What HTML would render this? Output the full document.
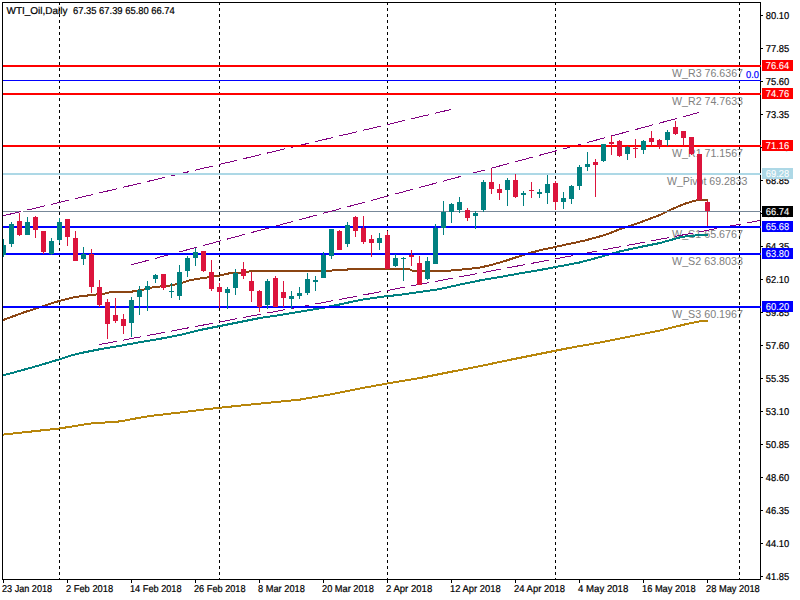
<!DOCTYPE html>
<html lang="en"><head><meta charset="utf-8"><title>WTI_Oil,Daily</title>
<style>html,body{margin:0;padding:0;background:#fff;overflow:hidden}svg{display:block}text{font-family:"Liberation Sans",Arial,sans-serif}.ax{text-rendering:geometricPrecision;font-size:10px;fill:#000;stroke:#000;stroke-width:.22px}.lb{font-size:10.67px;fill:#808080}.wl{text-rendering:geometricPrecision;font-size:10px;fill:#fff;stroke:#fff;stroke-width:.1px}</style>
</head><body>
<svg width="800" height="600" viewBox="0 0 800 600">
<rect width="800" height="600" fill="#fff"/>
<text class="lb" x="672" y="76.6" textLength="71" lengthAdjust="spacingAndGlyphs">W_R3 76.6367</text>
<text class="lb" x="672" y="104.6" textLength="71" lengthAdjust="spacingAndGlyphs">W_R2 74.7633</text>
<text class="lb" x="672" y="156.6" textLength="71" lengthAdjust="spacingAndGlyphs">W_R1 71.1567</text>
<text class="lb" x="667" y="185" textLength="80.5" lengthAdjust="spacingAndGlyphs">W_Pivot 69.2833</text>
<text class="lb" x="672" y="237.5" textLength="71" lengthAdjust="spacingAndGlyphs">W_S1 65.6767</text>
<text class="lb" x="672" y="265" textLength="71" lengthAdjust="spacingAndGlyphs">W_S2 63.8033</text>
<text class="lb" x="672" y="318" textLength="71" lengthAdjust="spacingAndGlyphs">W_S3 60.1967</text>
<text x="746" y="77.6" text-rendering="geometricPrecision" font-size="10" fill="#0000FF" stroke="#0000FF" stroke-width=".2" textLength="13" lengthAdjust="spacingAndGlyphs">0.0</text>
<g shape-rendering="crispEdges" fill="none">
<rect x="2" y="2" width="759" height="1" fill="#000"/>
<rect x="2" y="2" width="1" height="578" fill="#000"/>
<rect x="760" y="2" width="1" height="578" fill="#000"/>
<rect x="2" y="579" width="759" height="1" fill="#000"/>
<line x1="59.5" y1="2" x2="59.5" y2="579" stroke="#000" stroke-width="1" stroke-dasharray="3 3"/>
<line x1="219.5" y1="2" x2="219.5" y2="579" stroke="#000" stroke-width="1" stroke-dasharray="3 3"/>
<line x1="387.5" y1="2" x2="387.5" y2="579" stroke="#000" stroke-width="1" stroke-dasharray="3 3"/>
<line x1="555.5" y1="2" x2="555.5" y2="579" stroke="#000" stroke-width="1" stroke-dasharray="3 3"/>
<line x1="739.5" y1="2" x2="739.5" y2="579" stroke="#000" stroke-width="1" stroke-dasharray="3 3"/>
<polyline points="3,320 25,312 37.5,308 50,303.75 60,300.75 75,297 92.5,294.9 105,293.6 109,292.5 130,292.4 134,291 142.5,289.9 150,288 155,286.8 167.5,286 176,284.3 182.5,282.8 189,280.5 195,279.3 207.5,277.4 211,276.1 220,275.5 227.5,273.6 236,272.8 245,272.4 251,271.1 270,271 331,271 333,270 346,270 349,269 409,269 412,270.6 430,270.8 450,270.6 467.5,269 480,267.6 492.5,264.6 505,261 517.5,256.9 530,252.9 542.5,249.7 555,247 567.5,244.25 585,240.5 605,235 622.5,228.25 635,224.25 647.5,219.6 660,215 672.5,208.9 685,203.7 695,200.7 700,200 708,199.8" stroke="#8B4513" stroke-width="2"/>
<polyline points="3,375.4 20,370.8 40,365.2 60,359.2 70,355.8 80,353.2 100,349.2 120,345.8 140,342.2 160,338.8 180,335 200,330 220,326 240,322 260,318 280,315 300,311.6 320,308.4 340,304.4 360,300 380,297 400,294.8 420,292 440,289 460,284.6 480,280.4 500,277 520,273.4 540,270 560,266.2 580,262.4 600,257 620,251.4 640,247 660,243 680,237.4 690,235.6 700,235.4 708,235.4" stroke="#008080" stroke-width="2"/>
<polyline points="3,434.6 60,428.4 90,423.6 120,421.4 135,418.6 150,416 180,412.5 210,408.8 240,405.6 270,402.6 300,399.6 330,394.5 360,388.5 390,383 420,378 450,372 480,366.2 510,359.8 540,353.8 570,347.8 600,342.5 630,336.5 660,330.5 690,323.2 702,321 707.5,321" stroke="#B8860B" stroke-width="2"/>
<rect x="3" y="211" width="18" height="1" fill="#778899"/>
<rect x="23" y="211" width="738" height="1" fill="#778899"/>
<line x1="3" y1="215.8" x2="451.3" y2="109.4" stroke="#800080" stroke-dasharray="18.5 6.167"/>
<line x1="131" y1="264.9" x2="699" y2="112.5" stroke="#800080" stroke-dasharray="18.64 6.21"/>
<line x1="99" y1="344.65" x2="760" y2="220.45" stroke="#800080" stroke-dasharray="18.315 6.105"/>
<rect x="3" y="65" width="758" height="2" fill="#FF0000"/>
<rect x="3" y="80" width="758" height="1" fill="#0000FF"/>
<rect x="3" y="93" width="758" height="2" fill="#FF0000"/>
<rect x="3" y="145" width="758" height="2" fill="#FF0000"/>
<rect x="3" y="173" width="758" height="2" fill="#ADD8E6"/>
<rect x="3" y="226" width="758" height="2" fill="#0000FF"/>
<rect x="3" y="253" width="758" height="2" fill="#0000FF"/>
<rect x="3" y="306" width="758" height="2" fill="#0000FF"/>
<rect x="3" y="245" width="3" height="10" fill="#008080"/>
<rect x="3" y="239" width="1" height="18" fill="#008080"/>
<rect x="11" y="222" width="1" height="25" fill="#008080"/>
<rect x="9" y="224" width="5" height="20" fill="#008080"/>
<rect x="19" y="213" width="1" height="23" fill="#DC143C"/>
<rect x="17" y="221" width="5" height="14" fill="#DC143C"/>
<rect x="27" y="217" width="1" height="18" fill="#008080"/>
<rect x="25" y="222" width="5" height="13" fill="#008080"/>
<rect x="35" y="216" width="1" height="22" fill="#DC143C"/>
<rect x="33" y="217" width="5" height="13" fill="#DC143C"/>
<rect x="43" y="231" width="1" height="23" fill="#DC143C"/>
<rect x="41" y="231" width="5" height="21" fill="#DC143C"/>
<rect x="51" y="238" width="1" height="17" fill="#008080"/>
<rect x="49" y="241" width="5" height="13" fill="#008080"/>
<rect x="59" y="218" width="1" height="25" fill="#008080"/>
<rect x="57" y="222" width="5" height="18" fill="#008080"/>
<rect x="67" y="219" width="1" height="27" fill="#DC143C"/>
<rect x="65" y="219" width="5" height="18" fill="#DC143C"/>
<rect x="75" y="231" width="1" height="30" fill="#DC143C"/>
<rect x="73" y="238" width="5" height="23" fill="#DC143C"/>
<rect x="83" y="247" width="1" height="18" fill="#008080"/>
<rect x="81" y="254" width="5" height="5" fill="#008080"/>
<rect x="91" y="249" width="1" height="44" fill="#DC143C"/>
<rect x="89" y="254" width="5" height="33" fill="#DC143C"/>
<rect x="99" y="280" width="1" height="27" fill="#DC143C"/>
<rect x="97" y="287" width="5" height="18" fill="#DC143C"/>
<rect x="107" y="299" width="1" height="40" fill="#DC143C"/>
<rect x="105" y="302" width="5" height="22" fill="#DC143C"/>
<rect x="115" y="298" width="1" height="25" fill="#DC143C"/>
<rect x="113" y="315" width="5" height="6" fill="#DC143C"/>
<rect x="123" y="314" width="1" height="20" fill="#DC143C"/>
<rect x="121" y="319" width="5" height="7" fill="#DC143C"/>
<rect x="131" y="297" width="1" height="40" fill="#008080"/>
<rect x="129" y="300" width="5" height="23" fill="#008080"/>
<rect x="139" y="286" width="1" height="29" fill="#008080"/>
<rect x="137" y="290" width="5" height="7" fill="#008080"/>
<rect x="147" y="281" width="1" height="30" fill="#008080"/>
<rect x="145" y="286" width="5" height="4" fill="#008080"/>
<rect x="155" y="274" width="1" height="9" fill="#008080"/>
<rect x="153" y="275" width="5" height="4" fill="#008080"/>
<rect x="163" y="274" width="1" height="16" fill="#DC143C"/>
<rect x="161" y="274" width="5" height="14" fill="#DC143C"/>
<rect x="171" y="283" width="1" height="15" fill="#008080"/>
<rect x="169" y="291" width="5" height="1" fill="#008080"/>
<rect x="179" y="265" width="1" height="35" fill="#008080"/>
<rect x="177" y="272" width="5" height="24" fill="#008080"/>
<rect x="187" y="256" width="1" height="21" fill="#008080"/>
<rect x="185" y="258" width="5" height="13" fill="#008080"/>
<rect x="195" y="248" width="1" height="18" fill="#008080"/>
<rect x="193" y="252" width="5" height="6" fill="#008080"/>
<rect x="203" y="251" width="1" height="21" fill="#DC143C"/>
<rect x="201" y="251" width="5" height="20" fill="#DC143C"/>
<rect x="211" y="260" width="1" height="31" fill="#DC143C"/>
<rect x="209" y="272" width="5" height="17" fill="#DC143C"/>
<rect x="219" y="283" width="1" height="25" fill="#DC143C"/>
<rect x="217" y="287" width="5" height="5" fill="#DC143C"/>
<rect x="227" y="287" width="1" height="22" fill="#008080"/>
<rect x="225" y="289" width="5" height="4" fill="#008080"/>
<rect x="235" y="269" width="1" height="26" fill="#008080"/>
<rect x="233" y="273" width="5" height="15" fill="#008080"/>
<rect x="243" y="262" width="1" height="17" fill="#DC143C"/>
<rect x="241" y="269" width="5" height="7" fill="#DC143C"/>
<rect x="251" y="272" width="1" height="30" fill="#DC143C"/>
<rect x="249" y="281" width="5" height="10" fill="#DC143C"/>
<rect x="259" y="290" width="1" height="22" fill="#DC143C"/>
<rect x="257" y="291" width="5" height="16" fill="#DC143C"/>
<rect x="267" y="279" width="1" height="30" fill="#008080"/>
<rect x="265" y="281" width="5" height="24" fill="#008080"/>
<rect x="275" y="276" width="1" height="31" fill="#DC143C"/>
<rect x="273" y="278" width="5" height="29" fill="#DC143C"/>
<rect x="283" y="281" width="1" height="26" fill="#DC143C"/>
<rect x="281" y="292" width="5" height="6" fill="#DC143C"/>
<rect x="291" y="291" width="1" height="18" fill="#008080"/>
<rect x="289" y="296" width="5" height="3" fill="#008080"/>
<rect x="299" y="287" width="1" height="12" fill="#008080"/>
<rect x="297" y="293" width="5" height="3" fill="#008080"/>
<rect x="307" y="273" width="1" height="22" fill="#008080"/>
<rect x="305" y="279" width="5" height="14" fill="#008080"/>
<rect x="315" y="276" width="1" height="15" fill="#008080"/>
<rect x="313" y="280" width="5" height="2" fill="#008080"/>
<rect x="323" y="252" width="1" height="26" fill="#008080"/>
<rect x="321" y="255" width="5" height="23" fill="#008080"/>
<rect x="331" y="229" width="1" height="30" fill="#008080"/>
<rect x="329" y="229" width="5" height="27" fill="#008080"/>
<rect x="339" y="230" width="1" height="20" fill="#DC143C"/>
<rect x="337" y="231" width="5" height="19" fill="#DC143C"/>
<rect x="347" y="222" width="1" height="25" fill="#008080"/>
<rect x="345" y="225" width="5" height="19" fill="#008080"/>
<rect x="355" y="216" width="1" height="21" fill="#DC143C"/>
<rect x="353" y="217" width="5" height="14" fill="#DC143C"/>
<rect x="363" y="216" width="1" height="28" fill="#DC143C"/>
<rect x="361" y="228" width="5" height="14" fill="#DC143C"/>
<rect x="371" y="235" width="1" height="22" fill="#DC143C"/>
<rect x="369" y="239" width="5" height="4" fill="#DC143C"/>
<rect x="379" y="233" width="1" height="17" fill="#008080"/>
<rect x="377" y="238" width="5" height="5" fill="#008080"/>
<rect x="387" y="231" width="1" height="38" fill="#DC143C"/>
<rect x="385" y="235" width="5" height="34" fill="#DC143C"/>
<rect x="395" y="254" width="1" height="13" fill="#008080"/>
<rect x="393" y="258" width="5" height="8" fill="#008080"/>
<rect x="403" y="257" width="1" height="24" fill="#008080"/>
<rect x="401" y="258" width="5" height="1" fill="#008080"/>
<rect x="411" y="250" width="1" height="16" fill="#DC143C"/>
<rect x="409" y="255" width="5" height="2" fill="#DC143C"/>
<rect x="419" y="256" width="1" height="29" fill="#DC143C"/>
<rect x="417" y="263" width="5" height="22" fill="#DC143C"/>
<rect x="427" y="257" width="1" height="23" fill="#008080"/>
<rect x="425" y="261" width="5" height="18" fill="#008080"/>
<rect x="435" y="224" width="1" height="40" fill="#008080"/>
<rect x="433" y="228" width="5" height="36" fill="#008080"/>
<rect x="443" y="201" width="1" height="34" fill="#008080"/>
<rect x="441" y="212" width="5" height="16" fill="#008080"/>
<rect x="451" y="203" width="1" height="20" fill="#008080"/>
<rect x="449" y="204" width="5" height="8" fill="#008080"/>
<rect x="459" y="197" width="1" height="16" fill="#008080"/>
<rect x="457" y="202" width="5" height="8" fill="#008080"/>
<rect x="467" y="208" width="1" height="13" fill="#DC143C"/>
<rect x="465" y="210" width="5" height="8" fill="#DC143C"/>
<rect x="475" y="211" width="1" height="18" fill="#008080"/>
<rect x="473" y="213" width="5" height="3" fill="#008080"/>
<rect x="483" y="180" width="1" height="32" fill="#008080"/>
<rect x="481" y="182" width="5" height="28" fill="#008080"/>
<rect x="491" y="169" width="1" height="25" fill="#DC143C"/>
<rect x="489" y="182" width="5" height="7" fill="#DC143C"/>
<rect x="499" y="184" width="1" height="16" fill="#DC143C"/>
<rect x="497" y="189" width="5" height="4" fill="#DC143C"/>
<rect x="507" y="178" width="1" height="28" fill="#008080"/>
<rect x="505" y="180" width="5" height="10" fill="#008080"/>
<rect x="515" y="174" width="1" height="24" fill="#DC143C"/>
<rect x="513" y="180" width="5" height="17" fill="#DC143C"/>
<rect x="523" y="191" width="1" height="15" fill="#008080"/>
<rect x="521" y="193" width="5" height="2" fill="#008080"/>
<rect x="531" y="182" width="1" height="16" fill="#DC143C"/>
<rect x="529" y="190" width="5" height="1" fill="#DC143C"/>
<rect x="539" y="189" width="1" height="9" fill="#008080"/>
<rect x="537" y="192" width="5" height="2" fill="#008080"/>
<rect x="547" y="175" width="1" height="29" fill="#008080"/>
<rect x="545" y="184" width="5" height="9" fill="#008080"/>
<rect x="555" y="181" width="1" height="29" fill="#DC143C"/>
<rect x="553" y="183" width="5" height="19" fill="#DC143C"/>
<rect x="563" y="192" width="1" height="17" fill="#008080"/>
<rect x="561" y="198" width="5" height="4" fill="#008080"/>
<rect x="571" y="185" width="1" height="19" fill="#008080"/>
<rect x="569" y="186" width="5" height="13" fill="#008080"/>
<rect x="579" y="165" width="1" height="25" fill="#008080"/>
<rect x="577" y="167" width="5" height="19" fill="#008080"/>
<rect x="587" y="152" width="1" height="19" fill="#008080"/>
<rect x="585" y="164" width="5" height="3" fill="#008080"/>
<rect x="595" y="159" width="1" height="38" fill="#DC143C"/>
<rect x="593" y="162" width="5" height="3" fill="#DC143C"/>
<rect x="603" y="144" width="1" height="18" fill="#008080"/>
<rect x="601" y="144" width="5" height="17" fill="#008080"/>
<rect x="611" y="136" width="1" height="19" fill="#DC143C"/>
<rect x="609" y="142" width="5" height="2" fill="#DC143C"/>
<rect x="619" y="140" width="1" height="17" fill="#DC143C"/>
<rect x="617" y="141" width="5" height="15" fill="#DC143C"/>
<rect x="627" y="146" width="1" height="14" fill="#008080"/>
<rect x="625" y="147" width="5" height="7" fill="#008080"/>
<rect x="635" y="139" width="1" height="19" fill="#DC143C"/>
<rect x="633" y="148" width="5" height="1" fill="#DC143C"/>
<rect x="643" y="140" width="1" height="14" fill="#008080"/>
<rect x="641" y="141" width="5" height="9" fill="#008080"/>
<rect x="651" y="131" width="1" height="15" fill="#DC143C"/>
<rect x="649" y="138" width="5" height="4" fill="#DC143C"/>
<rect x="659" y="139" width="1" height="10" fill="#DC143C"/>
<rect x="657" y="140" width="5" height="6" fill="#DC143C"/>
<rect x="667" y="130" width="1" height="16" fill="#008080"/>
<rect x="665" y="132" width="5" height="8" fill="#008080"/>
<rect x="675" y="121" width="1" height="14" fill="#DC143C"/>
<rect x="673" y="127" width="5" height="7" fill="#DC143C"/>
<rect x="683" y="131" width="1" height="15" fill="#DC143C"/>
<rect x="681" y="131" width="5" height="7" fill="#DC143C"/>
<rect x="691" y="137" width="1" height="18" fill="#DC143C"/>
<rect x="689" y="137" width="5" height="17" fill="#DC143C"/>
<rect x="699" y="154" width="1" height="46" fill="#DC143C"/>
<rect x="697" y="154" width="5" height="46" fill="#DC143C"/>
<rect x="707" y="201" width="1" height="25" fill="#DC143C"/>
<rect x="705" y="202" width="5" height="9" fill="#DC143C"/>
<rect x="761" y="15" width="2" height="1" fill="#000"/>
<rect x="761" y="48" width="2" height="1" fill="#000"/>
<rect x="761" y="81" width="2" height="1" fill="#000"/>
<rect x="761" y="114" width="2" height="1" fill="#000"/>
<rect x="761" y="147" width="2" height="1" fill="#000"/>
<rect x="761" y="180" width="2" height="1" fill="#000"/>
<rect x="761" y="213" width="2" height="1" fill="#000"/>
<rect x="761" y="246" width="2" height="1" fill="#000"/>
<rect x="761" y="279" width="2" height="1" fill="#000"/>
<rect x="761" y="312" width="2" height="1" fill="#000"/>
<rect x="761" y="345" width="2" height="1" fill="#000"/>
<rect x="761" y="378" width="2" height="1" fill="#000"/>
<rect x="761" y="411" width="2" height="1" fill="#000"/>
<rect x="761" y="444" width="2" height="1" fill="#000"/>
<rect x="761" y="477" width="2" height="1" fill="#000"/>
<rect x="761" y="510" width="2" height="1" fill="#000"/>
<rect x="761" y="543" width="2" height="1" fill="#000"/>
<rect x="761" y="576" width="2" height="1" fill="#000"/>
<rect x="3" y="580" width="1" height="3" fill="#000"/>
<rect x="67" y="580" width="1" height="3" fill="#000"/>
<rect x="131" y="580" width="1" height="3" fill="#000"/>
<rect x="195" y="580" width="1" height="3" fill="#000"/>
<rect x="259" y="580" width="1" height="3" fill="#000"/>
<rect x="323" y="580" width="1" height="3" fill="#000"/>
<rect x="387" y="580" width="1" height="3" fill="#000"/>
<rect x="451" y="580" width="1" height="3" fill="#000"/>
<rect x="515" y="580" width="1" height="3" fill="#000"/>
<rect x="579" y="580" width="1" height="3" fill="#000"/>
<rect x="643" y="580" width="1" height="3" fill="#000"/>
<rect x="707" y="580" width="1" height="3" fill="#000"/>
</g>
<text class="ax" x="765.8" y="19" textLength="23.4" lengthAdjust="spacingAndGlyphs">80.10</text>
<text class="ax" x="765.8" y="52" textLength="23.4" lengthAdjust="spacingAndGlyphs">77.85</text>
<text class="ax" x="765.8" y="85" textLength="23.4" lengthAdjust="spacingAndGlyphs">75.60</text>
<text class="ax" x="765.8" y="118" textLength="23.4" lengthAdjust="spacingAndGlyphs">73.35</text>
<text class="ax" x="765.8" y="151" textLength="23.4" lengthAdjust="spacingAndGlyphs">71.10</text>
<text class="ax" x="765.8" y="184" textLength="23.4" lengthAdjust="spacingAndGlyphs">68.85</text>
<text class="ax" x="765.8" y="217" textLength="23.4" lengthAdjust="spacingAndGlyphs">66.60</text>
<text class="ax" x="765.8" y="250" textLength="23.4" lengthAdjust="spacingAndGlyphs">64.35</text>
<text class="ax" x="765.8" y="283" textLength="23.4" lengthAdjust="spacingAndGlyphs">62.10</text>
<text class="ax" x="765.8" y="316" textLength="23.4" lengthAdjust="spacingAndGlyphs">59.85</text>
<text class="ax" x="765.8" y="349" textLength="23.4" lengthAdjust="spacingAndGlyphs">57.60</text>
<text class="ax" x="765.8" y="382" textLength="23.4" lengthAdjust="spacingAndGlyphs">55.35</text>
<text class="ax" x="765.8" y="415" textLength="23.4" lengthAdjust="spacingAndGlyphs">53.10</text>
<text class="ax" x="765.8" y="448" textLength="23.4" lengthAdjust="spacingAndGlyphs">50.85</text>
<text class="ax" x="765.8" y="481" textLength="23.4" lengthAdjust="spacingAndGlyphs">48.60</text>
<text class="ax" x="765.8" y="514" textLength="23.4" lengthAdjust="spacingAndGlyphs">46.35</text>
<text class="ax" x="765.8" y="547" textLength="23.4" lengthAdjust="spacingAndGlyphs">44.10</text>
<text class="ax" x="765.8" y="580" textLength="23.4" lengthAdjust="spacingAndGlyphs">41.85</text>
<text class="ax" x="2" y="592" textLength="50.1" lengthAdjust="spacingAndGlyphs">23 Jan 2018</text>
<text class="ax" x="66" y="592" textLength="47.1" lengthAdjust="spacingAndGlyphs">2 Feb 2018</text>
<text class="ax" x="130" y="592" textLength="51.6" lengthAdjust="spacingAndGlyphs">14 Feb 2018</text>
<text class="ax" x="194" y="592" textLength="51.6" lengthAdjust="spacingAndGlyphs">26 Feb 2018</text>
<text class="ax" x="258" y="592" textLength="46.9" lengthAdjust="spacingAndGlyphs">8 Mar 2018</text>
<text class="ax" x="322" y="592" textLength="51.9" lengthAdjust="spacingAndGlyphs">20 Mar 2018</text>
<text class="ax" x="386" y="592" textLength="46.2" lengthAdjust="spacingAndGlyphs">2 Apr 2018</text>
<text class="ax" x="450" y="592" textLength="50.6" lengthAdjust="spacingAndGlyphs">12 Apr 2018</text>
<text class="ax" x="514" y="592" textLength="50.9" lengthAdjust="spacingAndGlyphs">24 Apr 2018</text>
<text class="ax" x="578" y="592" textLength="50.3" lengthAdjust="spacingAndGlyphs">4 May 2018</text>
<text class="ax" x="642" y="592" textLength="53.6" lengthAdjust="spacingAndGlyphs">16 May 2018</text>
<text class="ax" x="706" y="592" textLength="53.8" lengthAdjust="spacingAndGlyphs">28 May 2018</text>
<rect x="762" y="60" width="31" height="11" fill="#FF0000" shape-rendering="crispEdges"/>
<text class="wl" x="765.8" y="69" textLength="23.4" lengthAdjust="spacingAndGlyphs">76.64</text>
<rect x="762" y="88" width="31" height="11" fill="#FF0000" shape-rendering="crispEdges"/>
<text class="wl" x="765.8" y="97" textLength="23.4" lengthAdjust="spacingAndGlyphs">74.76</text>
<rect x="762" y="140" width="31" height="11" fill="#FF0000" shape-rendering="crispEdges"/>
<text class="wl" x="765.8" y="149" textLength="23.4" lengthAdjust="spacingAndGlyphs">71.16</text>
<rect x="762" y="168" width="31" height="11" fill="#ADD8E6" shape-rendering="crispEdges"/>
<text class="wl" x="765.8" y="177" textLength="23.4" lengthAdjust="spacingAndGlyphs">69.28</text>
<rect x="762" y="206" width="31" height="11" fill="#000" shape-rendering="crispEdges"/>
<text class="wl" x="765.8" y="215" textLength="23.4" lengthAdjust="spacingAndGlyphs">66.74</text>
<rect x="762" y="221" width="31" height="11" fill="#0000FF" shape-rendering="crispEdges"/>
<text class="wl" x="765.8" y="230" textLength="23.4" lengthAdjust="spacingAndGlyphs">65.68</text>
<rect x="762" y="248" width="31" height="11" fill="#0000FF" shape-rendering="crispEdges"/>
<text class="wl" x="765.8" y="257" textLength="23.4" lengthAdjust="spacingAndGlyphs">63.80</text>
<rect x="762" y="301" width="31" height="11" fill="#0000FF" shape-rendering="crispEdges"/>
<text class="wl" x="765.8" y="310" textLength="23.4" lengthAdjust="spacingAndGlyphs">60.20</text>
<text class="ax" x="6.5" y="14" textLength="61" lengthAdjust="spacingAndGlyphs">WTI_Oil,Daily</text>
<text class="ax" x="73" y="14" textLength="23.5" lengthAdjust="spacingAndGlyphs">67.35</text>
<text class="ax" x="99.1" y="14" textLength="23.5" lengthAdjust="spacingAndGlyphs">67.39</text>
<text class="ax" x="125.2" y="14" textLength="23.5" lengthAdjust="spacingAndGlyphs">65.80</text>
<text class="ax" x="151.3" y="14" textLength="23.5" lengthAdjust="spacingAndGlyphs">66.74</text>
</svg></body></html>
